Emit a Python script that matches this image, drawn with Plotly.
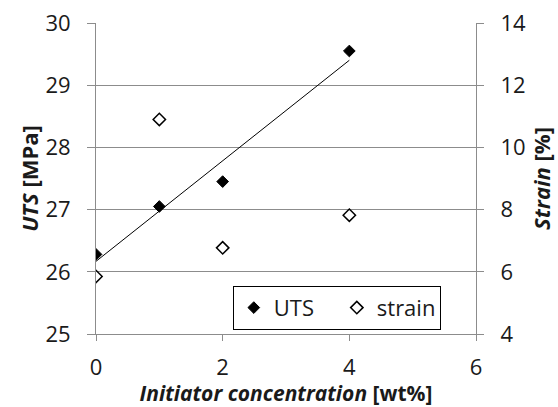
import numpy as np
import plotly.graph_objects as go

# Initiator concentration [wt%]
concentration = [0, 1, 2, 4]
# Ultimate tensile strength [MPa]
uts = [26.28, 27.05, 27.45, 29.55]
# Strain at break [%]
strain = [5.85, 10.9, 6.77, 7.82]

x_ticks = [0, 2, 4, 6]
uts_ticks = [25, 26, 27, 28, 29, 30]
strain_ticks = [4, 6, 8, 10, 12, 14]

# Linear trend for UTS
slope, intercept = np.polyfit(concentration, uts, 1)
trend_x = [min(concentration), max(concentration)]
trend_y = [slope * v + intercept for v in trend_x]

FONT = "Open Sans"
TXT = "#1a1a1a"
GRID = "#8c8c8c"

fig = go.Figure()

fig.add_trace(go.Scatter(
    x=trend_x, y=trend_y, mode="lines",
    line=dict(color="black", width=1), showlegend=False, hoverinfo="skip",
))
fig.add_trace(go.Scatter(
    x=concentration, y=uts, mode="markers", name="UTS",
    marker=dict(symbol="diamond", size=9, color="black",
                line=dict(color="black", width=1)),
))
fig.add_trace(go.Scatter(
    x=concentration, y=strain, mode="markers", name="strain", yaxis="y2",
    marker=dict(symbol="diamond-open", size=9.5, color="black",
                line=dict(color="black", width=1.5)),
))

fig.update_layout(
    width=558, height=407,
    margin=dict(l=96, r=82, t=23, b=73),
    paper_bgcolor="white", plot_bgcolor="white",
    font=dict(family=FONT, size=22, color=TXT),
    xaxis=dict(
        range=[0, 6], tickvals=x_ticks, showgrid=False, zeroline=False,
        showline=True, linecolor=GRID, linewidth=1, automargin=False,
        ticks="outside", ticklen=6, tickcolor=GRID,
        ticklabelstandoff=8,
        title=dict(text="<b><i>Initiator concentration</i> [wt%]</b>",
                   font=dict(size=21), standoff=3),
    ),
    yaxis=dict(
        range=[25, 30], tickvals=uts_ticks, showgrid=True, gridcolor=GRID,
        gridwidth=1, zeroline=False, automargin=False,
        showline=True, linecolor=GRID, linewidth=1,
        ticks="outside", ticklen=8, tickcolor=GRID,
        ticklabelstandoff=12,
        title=dict(text="<b><i>UTS</i> [MPa]</b>", font=dict(size=22), standoff=0),
    ),
    yaxis2=dict(
        range=[4, 14], tickvals=strain_ticks, overlaying="y", side="right",
        showgrid=False, zeroline=False, automargin=False,
        showline=True, linecolor=GRID, linewidth=1,
        ticks="outside", ticklen=7, tickcolor=GRID,
        ticklabelstandoff=12,
        title=dict(text="<b><i>Strain</i> [%]</b>", font=dict(size=22), standoff=7),
    ),
    legend=dict(
        orientation="h", x=0.36, y=0.155, xanchor="left", yanchor="top",
        bordercolor="black", borderwidth=1, bgcolor="white",
        font=dict(size=22), entrywidth=58, itemwidth=30,
    ),
    showlegend=True,
)

fig.write_html("out.html")
